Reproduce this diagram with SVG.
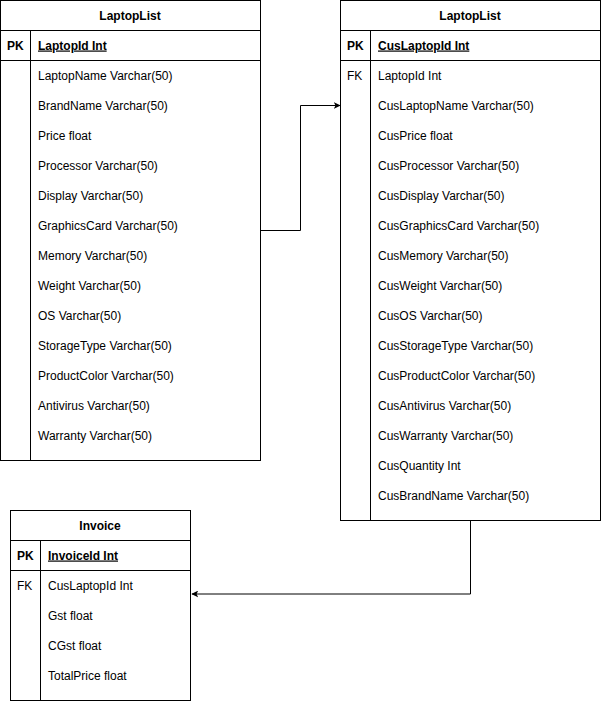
<svg xmlns="http://www.w3.org/2000/svg" width="601" height="701" viewBox="0 0 601 701">
  <defs>
    <marker id="arrow" viewBox="0 0 10 10" refX="9" refY="5" markerWidth="7" markerHeight="7" markerUnits="userSpaceOnUse" orient="auto">
      <path d="M0,0 L10,5 L0,10 L2.5,5 Z" fill="#000"/>
    </marker>
  </defs>
  <style>
    .box { fill: #fff; stroke: #000; stroke-width: 1; }
    .ln { stroke: #000; stroke-width: 1; fill: none; }
    text { font-family: "Liberation Sans", Arial, sans-serif; font-size: 12px; fill: #000; }
    .title { font-weight: bold; text-anchor: middle; }
    .key { font-weight: bold; }
    .pk { font-weight: bold; text-decoration: underline; }
    .conn { stroke: #000; stroke-width: 1; fill: none; }
  </style>

  <rect width="601" height="701" fill="#fff"/>

  <!-- Table: LaptopList -->
  <g id="laptoplist">
    <rect class="box" x="0.5" y="0.5" width="260" height="460"/>
    <line class="ln" x1="0.5" y1="30.5" x2="260.5" y2="30.5"/>
    <line class="ln" x1="0.5" y1="60.5" x2="260.5" y2="60.5"/>
    <line class="ln" x1="30.5" y1="30.5" x2="30.5" y2="460.5"/>
    <text class="title" x="130" y="19.5">LaptopList</text>
    <text class="key" x="7" y="49.5">PK</text>
    <text class="pk" x="38" y="49.5">LaptopId Int</text>
    <text x="38" y="79.5">LaptopName Varchar(50)</text>
    <text x="38" y="109.5">BrandName Varchar(50)</text>
    <text x="38" y="139.5">Price float</text>
    <text x="38" y="169.5">Processor Varchar(50)</text>
    <text x="38" y="199.5">Display Varchar(50)</text>
    <text x="38" y="229.5">GraphicsCard Varchar(50)</text>
    <text x="38" y="259.5">Memory Varchar(50)</text>
    <text x="38" y="289.5">Weight Varchar(50)</text>
    <text x="38" y="319.5">OS Varchar(50)</text>
    <text x="38" y="349.5">StorageType Varchar(50)</text>
    <text x="38" y="379.5">ProductColor Varchar(50)</text>
    <text x="38" y="409.5">Antivirus Varchar(50)</text>
    <text x="38" y="439.5">Warranty Varchar(50)</text>
  </g>

  <!-- Table: customer LaptopList -->
  <g id="cus-laptoplist">
    <rect class="box" x="340.5" y="0.5" width="260" height="520"/>
    <line class="ln" x1="340.5" y1="30.5" x2="600.5" y2="30.5"/>
    <line class="ln" x1="340.5" y1="60.5" x2="600.5" y2="60.5"/>
    <line class="ln" x1="370.5" y1="30.5" x2="370.5" y2="520.5"/>
    <text class="title" x="470" y="19.5">LaptopList</text>
    <text class="key" x="347" y="49.5">PK</text>
    <text class="pk" x="378" y="49.5">CusLaptopId Int</text>
    <text x="347" y="79.5">FK</text>
    <text x="378" y="79.5">LaptopId Int</text>
    <text x="378" y="109.5">CusLaptopName Varchar(50)</text>
    <text x="378" y="139.5">CusPrice float</text>
    <text x="378" y="169.5">CusProcessor Varchar(50)</text>
    <text x="378" y="199.5">CusDisplay Varchar(50)</text>
    <text x="378" y="229.5">CusGraphicsCard Varchar(50)</text>
    <text x="378" y="259.5">CusMemory Varchar(50)</text>
    <text x="378" y="289.5">CusWeight Varchar(50)</text>
    <text x="378" y="319.5">CusOS Varchar(50)</text>
    <text x="378" y="349.5">CusStorageType Varchar(50)</text>
    <text x="378" y="379.5">CusProductColor Varchar(50)</text>
    <text x="378" y="409.5">CusAntivirus Varchar(50)</text>
    <text x="378" y="439.5">CusWarranty Varchar(50)</text>
    <text x="378" y="469.5">CusQuantity Int</text>
    <text x="378" y="499.5">CusBrandName Varchar(50)</text>
  </g>

  <!-- Table: Invoice -->
  <g id="invoice">
    <rect class="box" x="10.5" y="510.5" width="180" height="190"/>
    <line class="ln" x1="10.5" y1="540.5" x2="190.5" y2="540.5"/>
    <line class="ln" x1="10.5" y1="570.5" x2="190.5" y2="570.5"/>
    <line class="ln" x1="40.5" y1="540.5" x2="40.5" y2="700.5"/>
    <text class="title" x="100" y="529.5">Invoice</text>
    <text class="key" x="17" y="559.5">PK</text>
    <text class="pk" x="48" y="559.5">InvoiceId Int</text>
    <text x="17" y="589.5">FK</text>
    <text x="48" y="589.5">CusLaptopId Int</text>
    <text x="48" y="619.5">Gst float</text>
    <text x="48" y="649.5">CGst float</text>
    <text x="48" y="679.5">TotalPrice float</text>
  </g>

  <!-- Relationships -->
  <g id="connectors">
    <path class="conn" d="M260.5,230.5 H300.5 V105.5 H340" marker-end="url(#arrow)"/>
    <path class="conn" d="M470.5,520.5 V594 H192" marker-end="url(#arrow)"/>
  </g>
</svg>
